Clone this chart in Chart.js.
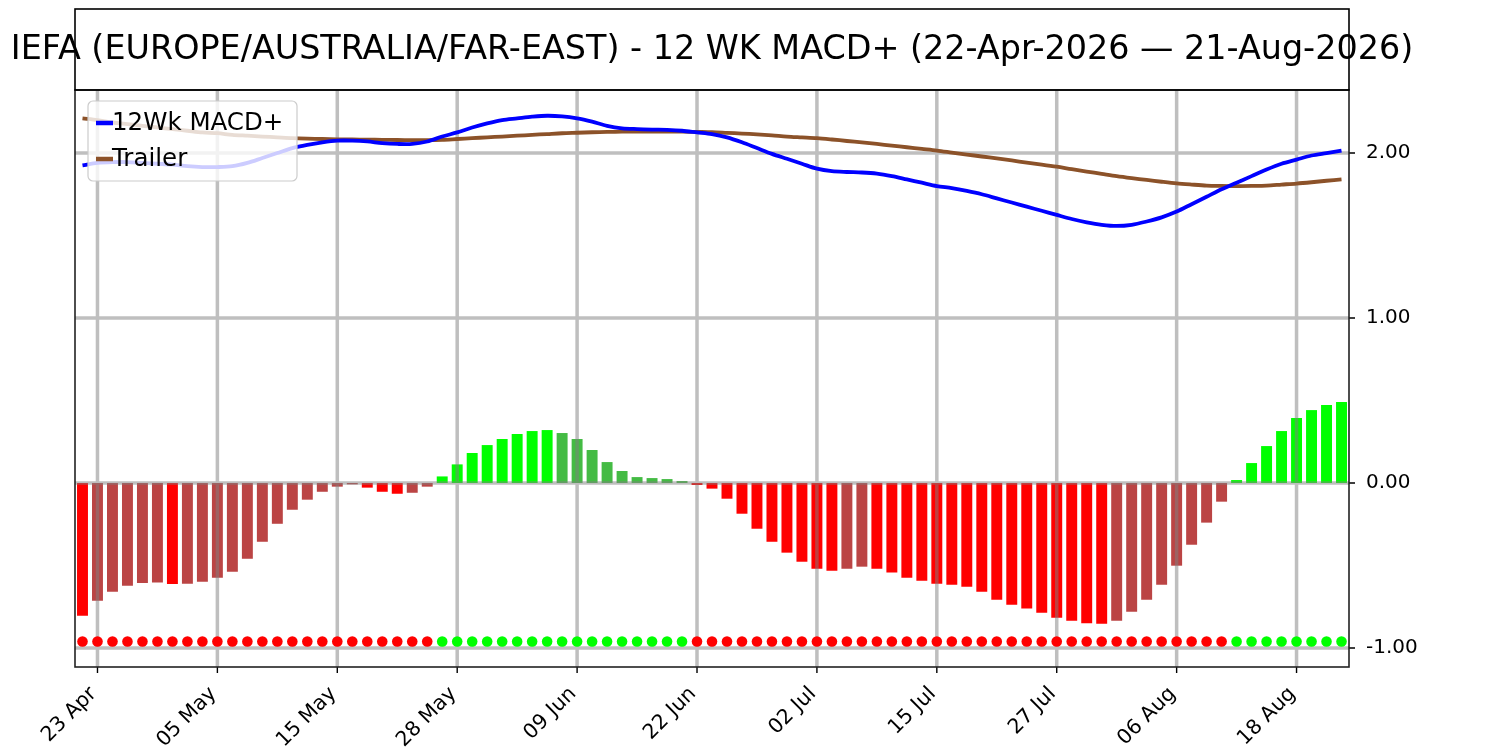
<!DOCTYPE html>
<html>
<head>
<meta charset="utf-8">
<title>IEFA 12 WK MACD+</title>
<script src="https://cdn.jsdelivr.net/npm/chart.js@4.4.1/dist/chart.umd.min.js"></script>
<style>
  html, body { margin: 0; padding: 0; background: #fff; }
</style>
</head>
<body>
<canvas id="macdChart" width="1500" height="750"></canvas>
<script>
// --- DATA ---
const chartTitle = 'IEFA (EUROPE/AUSTRALIA/FAR-EAST) - 12 WK MACD+ (22-Apr-2026 \u2014 21-Aug-2026)';

const tradingDays = [
    '22 Apr', '23 Apr', '24 Apr', '27 Apr', '28 Apr', '29 Apr', '30 Apr',
    '01 May', '04 May', '05 May', '06 May', '07 May', '08 May', '11 May', '12 May', '13 May', '14 May', '15 May',
    '18 May', '19 May', '20 May', '21 May', '22 May', '26 May', '27 May', '28 May', '29 May',
    '01 Jun', '02 Jun', '03 Jun', '04 Jun', '05 Jun', '08 Jun', '09 Jun', '10 Jun', '11 Jun', '12 Jun',
    '15 Jun', '16 Jun', '17 Jun', '18 Jun', '22 Jun', '23 Jun', '24 Jun', '25 Jun', '26 Jun', '29 Jun', '30 Jun',
    '01 Jul', '02 Jul', '06 Jul', '07 Jul', '08 Jul', '09 Jul', '10 Jul', '13 Jul', '14 Jul', '15 Jul',
    '16 Jul', '17 Jul', '20 Jul', '21 Jul', '22 Jul', '23 Jul', '24 Jul', '27 Jul', '28 Jul', '29 Jul', '30 Jul', '31 Jul',
    '03 Aug', '04 Aug', '05 Aug', '06 Aug', '07 Aug', '10 Aug', '11 Aug', '12 Aug', '13 Aug', '14 Aug',
    '17 Aug', '18 Aug', '19 Aug', '20 Aug', '21 Aug'
];

const xTickLabels = ['23 Apr', '05 May', '15 May', '28 May', '09 Jun', '22 Jun', '02 Jul', '15 Jul', '27 Jul', '06 Aug', '18 Aug'];
const yTickValues = [-1, 0, 1, 2];

const macdLine = [
    1.925, 1.940, 1.945, 1.945, 1.940, 1.935, 1.930, 1.920, 1.915, 1.915,
    1.920, 1.940, 1.970, 2.000, 2.030, 2.050, 2.065, 2.075, 2.075, 2.070,
    2.060, 2.055, 2.055, 2.070, 2.100, 2.125, 2.155, 2.180, 2.200, 2.210,
    2.220, 2.226, 2.222, 2.210, 2.190, 2.165, 2.150, 2.145, 2.142, 2.140,
    2.135, 2.125, 2.115, 2.095, 2.065, 2.030, 1.995, 1.965, 1.935, 1.905,
    1.890, 1.885, 1.882, 1.875, 1.860, 1.840, 1.820, 1.800, 1.787, 1.770,
    1.750, 1.725, 1.700, 1.675, 1.650, 1.625, 1.600, 1.580, 1.565, 1.558,
    1.565, 1.585, 1.610, 1.645, 1.690, 1.735, 1.780, 1.820, 1.860, 1.900,
    1.935, 1.960, 1.985, 2.000, 2.015
];

const trailerLine = [
    2.210, 2.200, 2.185, 2.175, 2.165, 2.155, 2.145, 2.135, 2.125, 2.120,
    2.110, 2.105, 2.100, 2.095, 2.090, 2.087, 2.085, 2.083, 2.082, 2.081,
    2.080, 2.079, 2.078, 2.078, 2.080, 2.085, 2.090, 2.095, 2.100, 2.105,
    2.110, 2.115, 2.120, 2.123, 2.126, 2.128, 2.130, 2.130, 2.130, 2.130,
    2.130, 2.128, 2.126, 2.122, 2.118, 2.113, 2.107, 2.100, 2.095, 2.090,
    2.082, 2.073, 2.064, 2.055, 2.045, 2.035, 2.025, 2.015, 2.003, 1.991,
    1.979, 1.967, 1.955, 1.942, 1.930, 1.917, 1.902, 1.888, 1.874, 1.860,
    1.848, 1.837, 1.826, 1.816, 1.809, 1.803, 1.801, 1.800, 1.801, 1.803,
    1.809, 1.815, 1.823, 1.832, 1.840
];

const histogram = [
    -0.804, -0.713, -0.659, -0.622, -0.606, -0.603, -0.612, -0.610, -0.598, -0.574,
    -0.537, -0.459, -0.356, -0.247, -0.162, -0.101, -0.053, -0.022, -0.008, -0.028,
    -0.053, -0.065, -0.059, -0.022, 0.040, 0.113, 0.182, 0.230, 0.267, 0.297,
    0.315, 0.321, 0.303, 0.267, 0.200, 0.127, 0.073, 0.036, 0.030, 0.024,
    0.012, -0.012, -0.034, -0.095, -0.186, -0.277, -0.356, -0.422, -0.477, -0.519,
    -0.531, -0.519, -0.507, -0.519, -0.543, -0.574, -0.592, -0.610, -0.616, -0.628,
    -0.659, -0.707, -0.737, -0.761, -0.786, -0.816, -0.834, -0.850, -0.853, -0.834,
    -0.780, -0.707, -0.616, -0.501, -0.374, -0.240, -0.113, 0.018, 0.121, 0.224,
    0.315, 0.394, 0.442, 0.473, 0.491
];

const signalLevel = -0.96;
const yMin = -1.115;
const yMax = 2.382;

// --- STYLE ---
const fontFamily = "'DejaVu Sans', 'Liberation Sans', sans-serif";
const gridColor = 'rgba(128, 128, 128, 0.5)';

// bar colour: rising / falling on each side of zero
const histColors = histogram.map((v, i) => {
    const prev = i > 0 ? histogram[i - 1] : v;
    if (v >= 0) return v >= prev ? '#00ff00' : '#44bb44';
    return v <= prev ? '#ff0000' : '#bb4444';
});
const signalColors = histogram.map(v => (v > 0 ? '#00ff00' : '#ff0000'));

// --- DECOR PLUGIN (grid over bars, frame, title box, legend) ---
function drawGrid(chart) {
    const { ctx, chartArea: a, scales: { x, y } } = chart;
    ctx.save();
    ctx.strokeStyle = gridColor;
    ctx.lineWidth = 3.5;
    ctx.beginPath();
    x.ticks.forEach(t => {
        const px = x.getPixelForValue(t.value);
        ctx.moveTo(px, a.top);
        ctx.lineTo(px, a.bottom);
    });
    y.ticks.forEach(t => {
        const py = y.getPixelForValue(t.value);
        ctx.moveTo(a.left, py);
        ctx.lineTo(a.right, py);
    });
    ctx.stroke();
    ctx.restore();
}

function drawLegend(chart) {
    const { ctx, chartArea: a } = chart;
    const bx = a.left + 13, by = a.top + 11, bw = 209, bh = 80;
    ctx.save();
    ctx.beginPath();
    ctx.roundRect(bx, by, bw, bh, 5);
    ctx.fillStyle = 'rgba(255, 255, 255, 0.8)';
    ctx.fill();
    ctx.strokeStyle = '#cccccc';
    ctx.lineWidth = 1.2;
    ctx.stroke();

    const entries = [chart.data.datasets[2], chart.data.datasets[3]];
    ctx.font = '24.5px ' + fontFamily;
    ctx.textBaseline = 'middle';
    ctx.textAlign = 'left';
    entries.forEach((ds, i) => {
        const ly = by + 22 + i * 36;
        ctx.strokeStyle = ds.borderColor;
        ctx.lineWidth = 4.5;
        ctx.beginPath();
        ctx.moveTo(bx + 8, ly);
        ctx.lineTo(bx + 25, ly);
        ctx.stroke();
        ctx.fillStyle = '#000';
        ctx.fillText(ds.label, bx + 24, ly + 1);
    });
    ctx.restore();
}

function drawFrame(chart) {
    const { ctx, chartArea: a, scales: { x, y } } = chart;
    ctx.save();
    ctx.strokeStyle = '#000';
    ctx.lineWidth = 1.4;
    ctx.beginPath();
    x.ticks.forEach(t => {
        const px = x.getPixelForValue(t.value);
        ctx.moveTo(px, a.bottom);
        ctx.lineTo(px, a.bottom + 6);
    });
    y.ticks.forEach(t => {
        const py = y.getPixelForValue(t.value);
        ctx.moveTo(a.right, py);
        ctx.lineTo(a.right + 6, py);
    });
    ctx.stroke();

    ctx.lineWidth = 1.6;
    ctx.strokeStyle = '#222';
    ctx.strokeRect(a.left, a.top, a.right - a.left, a.bottom - a.top);

    // title box
    ctx.strokeStyle = '#000';
    ctx.strokeRect(a.left, 9, a.right - a.left, a.top - 9);
    ctx.fillStyle = '#000';
    ctx.font = '33.4px ' + fontFamily;
    ctx.textAlign = 'center';
    ctx.textBaseline = 'middle';
    ctx.fillText(chartTitle, (a.left + a.right) / 2, (9 + a.top) / 2 + 1);
    ctx.restore();
}

const macdDecor = {
    id: 'macdDecor',
    afterDatasetDraw(chart, args) {
        if (args.index === 0) drawGrid(chart);
    },
    afterDatasetsDraw(chart) {
        drawLegend(chart);
    },
    afterDraw(chart) {
        drawFrame(chart);
    }
};

// --- CHART ---
const ctx = document.getElementById('macdChart').getContext('2d');
new Chart(ctx, {
    type: 'bar',
    data: {
        labels: tradingDays,
        datasets: [
            {
                type: 'bar',
                label: 'Histogram',
                data: histogram,
                backgroundColor: histColors,
                borderWidth: 0,
                barPercentage: 0.73,
                categoryPercentage: 1.0,
                order: 3
            },
            {
                type: 'line',
                label: 'Signal',
                data: tradingDays.map(() => signalLevel),
                showLine: false,
                pointRadius: 5.3,
                pointBorderWidth: 0,
                pointBackgroundColor: signalColors,
                order: 2
            },
            {
                type: 'line',
                label: '12Wk MACD+',
                data: macdLine,
                borderColor: '#0000ff',
                borderWidth: 3.8,
                pointRadius: 0,
                tension: 0.3,
                order: 0
            },
            {
                type: 'line',
                label: 'Trailer',
                data: trailerLine,
                borderColor: '#8c5229',
                borderWidth: 3.8,
                pointRadius: 0,
                tension: 0.3,
                order: 1
            }
        ]
    },
    options: {
        responsive: false,
        animation: false,
        events: [],
        layout: { padding: { left: 75, top: 90, right: 0, bottom: 0 } },
        plugins: {
            legend: { display: false },
            title: { display: false },
            tooltip: { enabled: false }
        },
        scales: {
            x: {
                type: 'category',
                offset: true,
                grid: { display: false },
                border: { display: false },
                ticks: {
                    autoSkip: false,
                    maxRotation: 45,
                    minRotation: 45,
                    padding: 7,
                    labelOffset: -4,
                    color: '#000',
                    font: { family: fontFamily, size: 20.5 }
                },
                afterBuildTicks: s => {
                    s.ticks = s.ticks.filter(t => xTickLabels.includes(tradingDays[t.value]));
                },
                afterFit: s => { s.height = 83; }
            },
            y: {
                position: 'right',
                min: yMin,
                max: yMax,
                grid: { display: false },
                border: { display: false },
                ticks: {
                    padding: 9,
                    color: '#000',
                    font: { family: fontFamily, size: 20 },
                    callback: v => v.toFixed(2)
                },
                afterBuildTicks: s => {
                    s.ticks = yTickValues.map(v => ({ value: v }));
                },
                afterFit: s => { s.width = 151; }
            }
        }
    },
    plugins: [macdDecor]
});
</script>
</body>
</html>
